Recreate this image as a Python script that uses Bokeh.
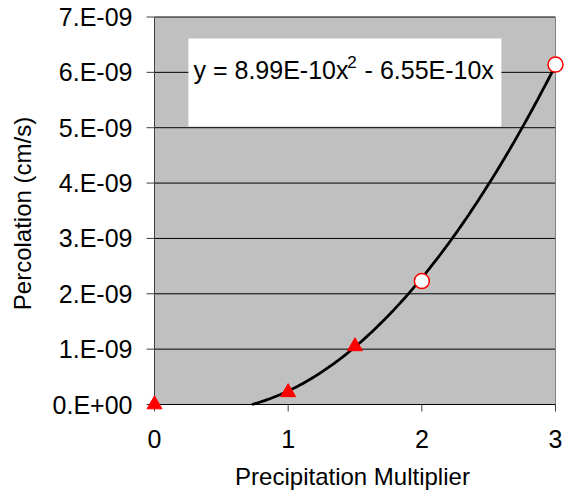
import numpy as np
from bokeh.plotting import figure
from bokeh.models import Range1d, FixedTicker
from bokeh.embed import file_html
from bokeh.resources import INLINE
from bokeh.core.properties import value

# ---------------- data ----------------
x_ticks = [0, 1, 2, 3]
y_ticks = [0.0, 1.0, 2.0, 3.0, 4.0, 5.0, 6.0, 7.0]          # in units of 1e-9
y_tick_labels = ["0.E+00", "1.E-09", "2.E-09", "3.E-09",
                 "4.E-09", "5.E-09", "6.E-09", "7.E-09"]
y_unit = 1e-9

tri_x = [0, 1, 1.5]
tri_y = [0.0, 0.22e-9, 1.05e-9]
circ_x = [2, 3]
circ_y = [2.23e-9, 6.14e-9]

trend_a = 8.99e-10       # coefficients shown on the chart
trend_b = -6.55e-10
eq_part1 = "y = 8.99E-10x"
eq_sup = "2"
eq_part2 = "- 6.55E-10x"

x_title = "Precipitation Multiplier"
y_title = "Percolation (cm/s)"

FONT = "Liberation Sans"

# ---------------- figure ----------------
W, H = 564, 497
F_LEFT, F_TOP, F_BOTTOM = 140, 12, 414
px_x = 401.0 / 3.0          # pixels per x unit
px_y = 387.5 / 7.0          # pixels per y unit
x0 = -14.0 / px_x
x1 = x0 + (W - F_LEFT) / px_x
y1 = 7.0 + 4.5 / px_y
y0 = y1 - (F_BOTTOM - F_TOP) / px_y

p = figure(width=W, height=H, output_backend="svg", toolbar_location=None,
           x_range=Range1d(x0, x1), y_range=Range1d(y0, y1),
           min_border_left=F_LEFT, min_border_right=0, min_border_top=F_TOP,
           min_border_bottom=H - F_BOTTOM)
p.background_fill_color = "white"
p.border_fill_color = "white"
p.outline_line_color = None
p.xgrid.visible = False
p.ygrid.visible = False

for ax in (p.xaxis, p.yaxis):
    ax.axis_line_color = None
    ax.major_tick_line_color = None
    ax.minor_tick_line_color = None
    ax.major_tick_out = 0
    ax.major_tick_in = 0
    ax.minor_tick_out = 0
    ax.minor_tick_in = 0
    ax.major_label_text_font = FONT
    ax.major_label_text_font_size = "25px"
    ax.major_label_text_color = "black"
    ax.axis_label_text_font = FONT
    ax.axis_label_text_font_size = "24px"
    ax.axis_label_text_font_style = "normal"
    ax.axis_label_text_color = "black"

p.xaxis.ticker = FixedTicker(ticks=x_ticks)
p.xaxis.major_label_standoff = 15
p.xaxis.axis_label = x_title
p.xaxis.axis_label_standoff = 12

p.yaxis.ticker = FixedTicker(ticks=y_ticks)
p.yaxis.major_label_overrides = {t: l for t, l in zip(y_ticks, y_tick_labels)}
p.yaxis.major_label_standoff = 8
p.yaxis.axis_label = y_title
p.yaxis.axis_label_standoff = 14

xa, xb = x_ticks[0], x_ticks[-1]
ya, yb = y_ticks[0], y_ticks[-1]

# plot area
p.quad(left=[xa], right=[xb], bottom=[ya], top=[yb],
       fill_color="#C0C0C0", line_color=None)

# gridlines
gy = y_ticks[1:]
p.segment(x0=[xa] * len(gy), x1=[xb] * len(gy), y0=gy, y1=gy,
          line_color="black", line_width=1)

# equation box
p.quad(left=[0.254], right=[2.595], bottom=[5.02], top=[6.61],
       fill_color="white", line_color=None)

# right border
p.segment(x0=[xb], x1=[xb], y0=[ya], y1=[yb], line_color="#808080", line_width=1)

# left axis + ticks
p.segment(x0=[xa], x1=[xa], y0=[ya], y1=[yb], line_color="#404040", line_width=1)
tl = 8.0 / px_x
p.segment(x0=[xa - tl] * len(y_ticks), x1=[xa] * len(y_ticks), y0=y_ticks, y1=y_ticks,
          line_color="#404040", line_width=1)

# bottom axis + ticks
p.segment(x0=[xa], x1=[xb], y0=[ya], y1=[ya], line_color="black", line_width=1)
tb = 7.0 / px_y
p.segment(x0=x_ticks, x1=x_ticks, y0=[ya] * len(x_ticks), y1=[ya - tb] * len(x_ticks),
          line_color="#404040", line_width=1)

# trendline
root = -trend_b / trend_a
xs = np.linspace(root, xb, 120)
ys = (trend_a * xs ** 2 + trend_b * xs) / y_unit
p.line(xs, ys, line_color="black", line_width=2.8)

# data points
p.scatter(tri_x, [v / y_unit for v in tri_y], marker="triangle", size=15,
          fill_color="#FF0000", line_color="#FF0000")
p.scatter(circ_x, [v / y_unit for v in circ_y], marker="circle", size=15,
          fill_color="white", line_color="#FF0000", line_width=1.5)

# equation
p.text(x=[0.292], y=[6.034], text=[eq_part1], text_font=value(FONT),
       text_font_size="25px", text_color="black",
       text_align="left", text_baseline="alphabetic")
p.text(x=[1.442], y=[6.19], text=[eq_sup], text_font=value(FONT),
       text_font_size="17px", text_color="black",
       text_align="left", text_baseline="alphabetic")
p.text(x=[1.572], y=[6.034], text=[eq_part2], text_font=value(FONT),
       text_font_size="25px", text_color="black",
       text_align="left", text_baseline="alphabetic")

open("out.html", "w").write(file_html(p, INLINE))
